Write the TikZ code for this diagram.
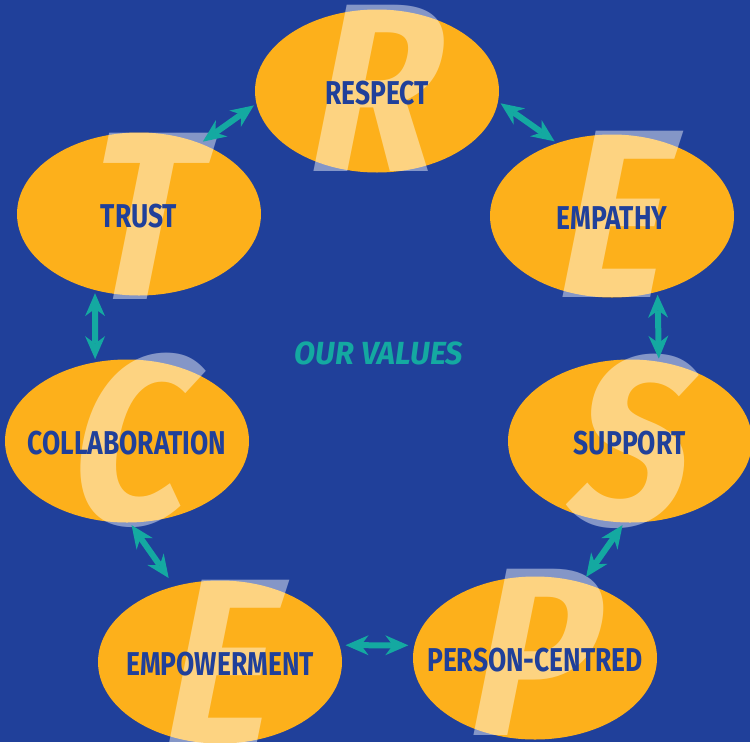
\documentclass[tikz,border=0pt]{standalone}
\usepackage{fontspec}
\setmainfont{Fira Sans}
\newfontfamily\labelfont[FakeStretch=0.8]{Fira Sans}
\newfontfamily\titlefont[FakeStretch=0.96]{Fira Sans}
\newfontfamily\bigfont[FakeStretch=0.86, FakeSlant=0.2]{Fira Sans}
\usepackage{tikz}
\usetikzlibrary{shapes.geometric}
\usetikzlibrary{arrows.meta}

\definecolor{valblue}{HTML}{20409A}
\definecolor{valorange}{HTML}{FDB01B}
\definecolor{valteal}{HTML}{14A9A1}

\begin{document}
\begin{tikzpicture}[x=1pt, y=-1pt,
    valnode/.style={ellipse, fill=valorange, minimum width=244pt, minimum height=163pt, inner sep=0pt},
    bigletter/.style={text=white, text opacity=0.45, inner sep=0pt, font=\bigfont\bfseries\fontsize{240}{240}\selectfont},
    valtext/.style={text=valblue, inner sep=0pt, yshift=-2pt, font=\labelfont\bfseries\fontsize{33}{33}\selectfont},
    valarrow/.style={{Stealth[length=23pt, width=20pt, line width=0pt]}-{Stealth[length=23pt, width=20pt, line width=0pt]}, line width=6pt, draw=valteal, shorten <=3pt, shorten >=3pt}]

        % background
        \fill[valblue] (0,0) rectangle (750,742);
        \useasboundingbox (0,0) rectangle (750,742);

        \node[valnode]    (respect)    at (377,91)  {};
        \node[valnode]    (trust)      at (139,214) {};
        \node[valnode]    (empathy)    at (612,216) {};
        \node[valnode]    (collab)     at (127,441) {};
        \node[valnode]    (support)    at (630,441) {};
        \node[valnode]    (empower)    at (220,662) {};
        \node[valnode]    (person)     at (535,658) {};

        % big initials
        \node[bigletter]  (letR)  at (364,88)  {R};
        \node[bigletter]  (letT)  at (130,216) {T};
        \node[bigletter]  (letE)  at (604,214) {E};
        \node[bigletter]  (letC)  at (120,440) {C};
        \node[bigletter]  (letS)  at (620,441) {S};
        \node[bigletter]  (letEb) at (210,663) {E};
        \node[bigletter]  (letP)  at (522,652) {P};

        \node[valtext]    (respectlbl)  at (respect) {RESPECT};
        \node[valtext]    (trustlbl)    at (trust)   {TRUST};
        \node[valtext]    (empathylbl)  at (empathy) {EMPATHY};
        \node[valtext]    (collablbl)   at (collab)  {COLLABORATION};
        \node[valtext]    (supportlbl)  at (support) {SUPPORT};
        \node[valtext]    (empowerlbl)  at (empower) {EMPOWERMENT};
        \node[valtext]    (personlbl)   at (person)  {PERSON-CENTRED};

        \node[text=valteal, inner sep=0pt, font=\titlefont\bfseries\itshape\fontsize{32}{32}\selectfont] (values) at (379,353) {OUR VALUES};

        \path(trust.49) edge[valarrow] (respect.186);
        \path(respect.-5) edge[valarrow] (empathy.127);
        \path(empathy.301) edge[valarrow] (support.70);
        \path(trust.240) edge[valarrow] (collab.112);
        \path(collab.272) edge[valarrow, shorten >=10pt] (empower.121);
        \path(support.266) edge[valarrow, shorten >=7pt] (person.58);
        \path(empower.8) edge[valarrow, shorten <=6pt, shorten >=6pt] (person.174);

    \end{tikzpicture}
\end{document}
